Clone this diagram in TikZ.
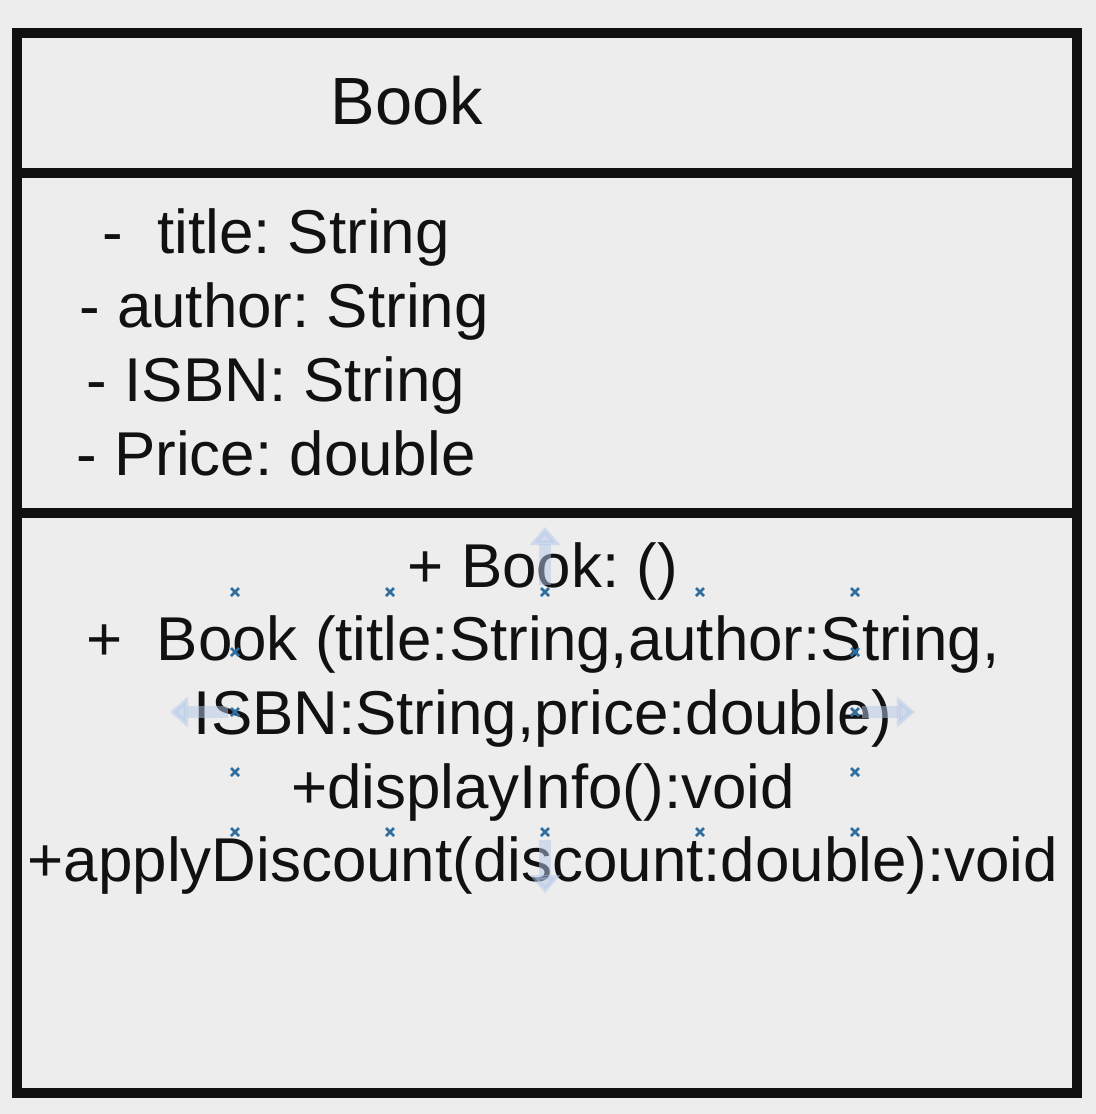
\documentclass[tikz,border=0pt]{standalone}
\usepackage{fontspec}
\setmainfont{Liberation Sans}
\usepackage{tikz}
\usetikzlibrary{positioning}
\usetikzlibrary{arrows.meta}
\frenchspacing
\definecolor{canvas}{HTML}{EDEDED}
\definecolor{ink}{HTML}{111111}
\definecolor{handle}{HTML}{2F6E9E}
\definecolor{hint}{HTML}{B4C8EB}
\tikzstyle{frame} = [draw=ink,line width=0.1cm]
\tikzstyle{member} = [text=ink,inner sep=0pt,anchor=base,font=\fontsize{17.6}{20.9}\selectfont]
\tikzstyle{classname} = [member,font=\fontsize{19}{22.6}\selectfont]
\tikzstyle{hintarrow} = [draw=hint,opacity=0.5,line width=0.12cm,-{Triangle[width=0.3cm,length=0.18cm]}]
\tikzstyle{handlemark} = [draw=handle,line width=0.025cm]

\begin{document}
\begin{tikzpicture}[x=0.01cm,y=-0.01cm]
			\fill[canvas] (0,0) rectangle (1096,1114);
			\useasboundingbox (0,0) rectangle (1096,1114);
			
			%Class box
			\draw[frame] (17,33) rectangle (1077,1093);
			\draw[frame] (17,173) -- (1077,173);
			\draw[frame] (17,513) -- (1077,513);
			
			%Nodes
			\node[classname] (Book) at (407,124) {Book};
			\node[member] (attrTitle) at (276,253) {-\ \ title: String};
			\node[member] (attrAuthor) at (284,327) {- author: String};
			\node[member] (attrIsbn) at (276,401) {- ISBN: String};
			\node[member] (attrPrice) at (276,475) {- Price: double};
			\node[member] (opCtor) at (543,587) {+ Book: ()};
			\node[member] (opCtorArgs) at (543,660) {+\ \ Book (title:String,author:String,};
			\node[member] (opCtorArgsB) at (543,734) {ISBN:String,price:double)};
			\node[member] (opDisplay) at (543,808) {+displayInfo():void};
			\node[member] (opDiscount) at (543,881) {+applyDiscount(discount:double):void};
			
			%Handles
			\foreach \hx in {235,390,545,700,855}
				\foreach \hy in {592,832}
					\draw[handlemark] (\hx-4,\hy-4) -- (\hx+4,\hy+4) (\hx-4,\hy+4) -- (\hx+4,\hy-4);
			\foreach \hx in {235,855}
				\foreach \hy in {652,712,772}
					\draw[handlemark] (\hx-4,\hy-4) -- (\hx+4,\hy+4) (\hx-4,\hy+4) -- (\hx+4,\hy-4);
			
			%Lines
			\coordinate (upTip) at (545,527);
			\coordinate (downTip) at (545,893);
			\coordinate (leftTip) at (170,712);
			\coordinate (rightTip) at (915,712);
			\draw[hintarrow] (545,585) -- (upTip);
			\draw[hintarrow] (545,840) -- (downTip);
			\draw[hintarrow] (228,712) -- (leftTip);
			\draw[hintarrow] (862,712) -- (rightTip);
		\end{tikzpicture}
\end{document}
